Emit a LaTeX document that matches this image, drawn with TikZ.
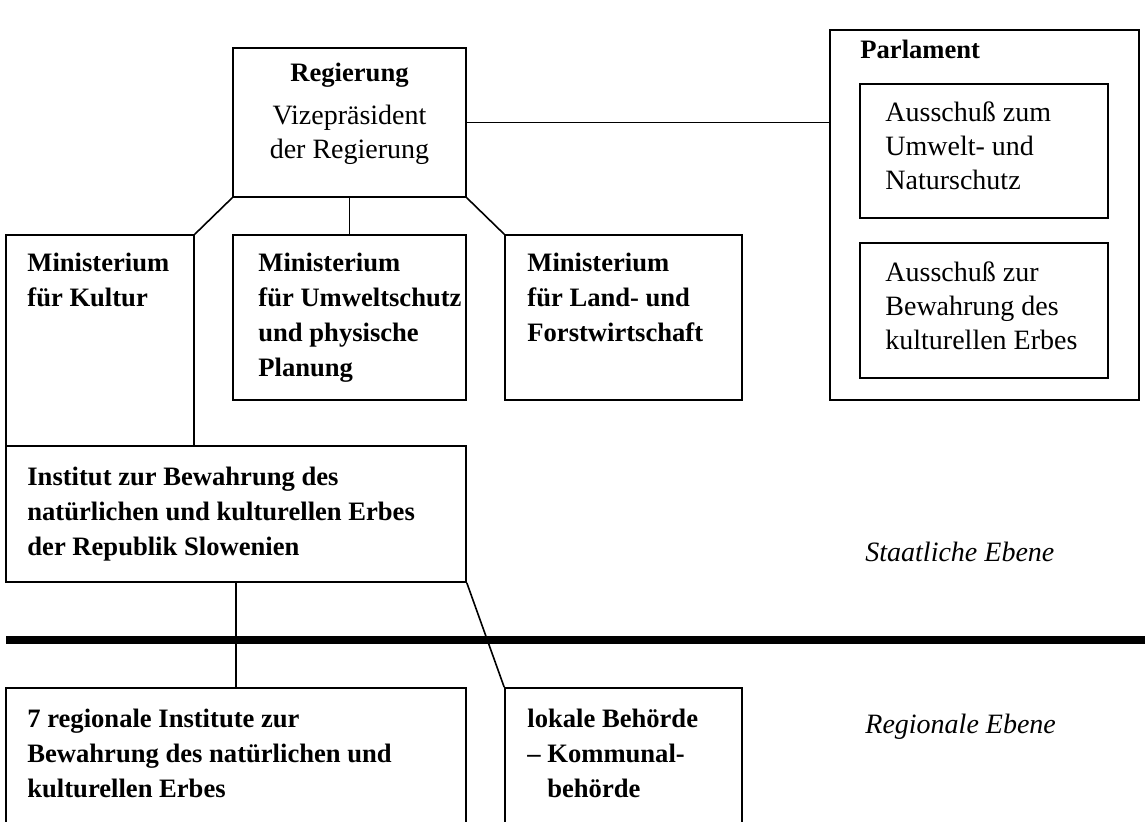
\documentclass[tikz,border=0pt]{standalone}
\usepackage{fontspec}
\setmainfont{Liberation Serif}
\usetikzlibrary{fit}
\begin{document}
\begin{tikzpicture}[x=0.5pt,y=-0.5pt,
  box/.style={draw, line width=0.8pt, inner sep=0pt},
  conn/.style={line width=0.8pt},
  level/.style={line width=3.6pt},
  txt/.style={inner sep=0pt, anchor=north west, align=left, font=\fontsize{13.3}{17.5}\selectfont\bfseries},
  rtxt/.style={inner sep=0pt, anchor=north west, align=left, font=\fontsize{14}{17}\selectfont},
  itxt/.style={inner sep=0pt, anchor=base west, font=\fontsize{14}{17}\selectfont\itshape}]
\useasboundingbox (0,0) rectangle (1145,821);

% boxes
\node[box, fit={(233,48) (466,197)}] (reg) {};
\node[box, fit={(830,30) (1139,400)}] (parl) {};
\node[box, fit={(860,84) (1108,218)}] (aus1) {};
\node[box, fit={(860,243) (1108,378)}] (aus2) {};
\node[box, fit={(6,235) (194,446)}] (kul) {};
\node[box, fit={(233,235) (466,400)}] (umw) {};
\node[box, fit={(505,235) (742,400)}] (land) {};
\node[box, fit={(6,446) (466,582)}] (inst) {};
\node[box, fit={(6,688) (466,840)}] (rg1) {};
\node[box, fit={(505,688) (742,840)}] (rg2) {};

% texts
\node[rtxt, anchor=north, align=center] (regT) at (349.5,62.5) {{\bfseries\fontsize{13.3}{17}\selectfont Regierung}\\[4.5pt]Vizepräsident\\der Regierung};
\node[txt] (parlT) at (860,39.5) {Parlament};
\node[rtxt] (aus1T) at (885,101.5) {Ausschuß zum\\Umwelt- und\\Naturschutz};
\node[rtxt] (aus2T) at (885,261.5) {Ausschuß zur\\Bewahrung des\\kulturellen Erbes};
\node[txt] (kulT) at (27,252.5) {Ministerium\\für Kultur};
\node[txt] (umwT) at (258,252.5) {Ministerium\\für Umweltschutz\\und physische\\Planung};
\node[txt] (landT) at (527,252.5) {Ministerium\\für Land- und\\Forstwirtschaft};
\node[txt] (instT) at (27,466.5) {Institut zur Bewahrung des\\natürlichen und kulturellen Erbes\\der Republik Slowenien};
\node[txt] (rg1T) at (27,708.5) {7 regionale Institute zur\\Bewahrung des natürlichen und\\kulturellen Erbes};
\node[txt] (rg2T) at (527,708.5) {lokale Behörde\\– Kommunal-\\\hphantom{– }behörde};
\node[itxt] (staat) at (865,561) {Staatliche Ebene};
\node[itxt] (regio) at (865,733) {Regionale Ebene};

% connectors
\draw[conn] (reg.east) -- (reg.east -| parl.west);
\draw[conn] (reg.south west) -- (kul.north east);
\draw[conn] (reg.south) -- (umw.north);
\draw[conn] (reg.south east) -- (land.north west);
\draw[conn] (inst.south) -- (rg1.north);
\draw[conn] (inst.south east) -- (rg2.north west);

% level separator
\coordinate (sepL) at (6,640);
\coordinate (sepR) at (1145,640);
\draw[level] (sepL) -- (sepR);
\end{tikzpicture}
\end{document}
